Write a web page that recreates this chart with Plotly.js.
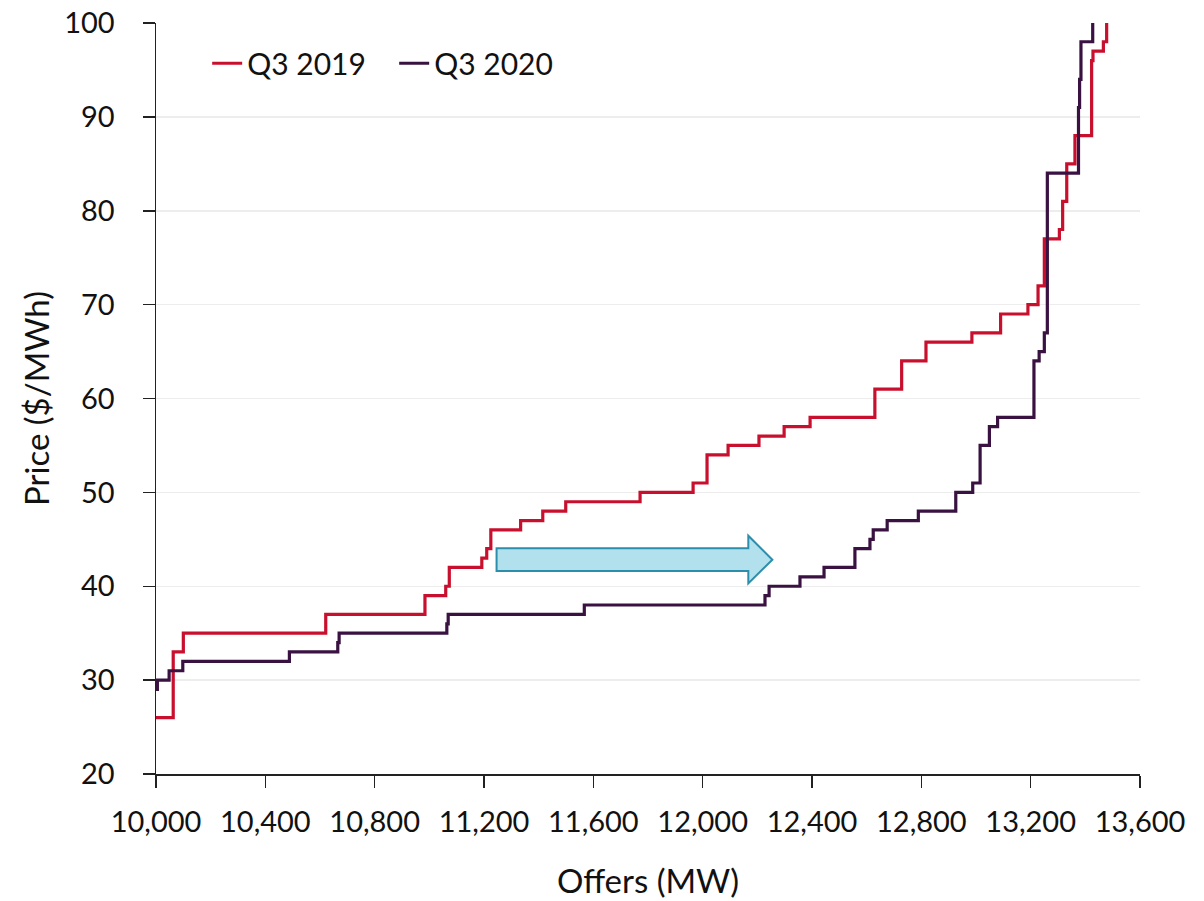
<!DOCTYPE html>
<html>
<head>
<meta charset="utf-8">
<script src="https://cdn.plot.ly/plotly-3.0.1.min.js"></script>
<style>html,body{margin:0;padding:0;background:#fff;}#chart{width:1204px;height:901px;}</style>
</head>
<body>
<div id="chart"></div>
<script>
// Q3 2019 offer stack (MW, $/MWh) - step starts
const q2019_mw = [10000, 10063, 10100, 10621, 10984, 11060, 11073, 11192, 11210, 11225, 11334, 11415, 11499, 11771, 11965, 12016, 12093, 12206, 12298, 12393, 12630, 12728, 12817, 12985, 13090, 13190, 13227, 13250, 13305, 13317, 13332, 13362, 13423, 13428, 13466, 13478];
const q2019_price = [26, 33, 35, 37, 39, 40, 42, 43, 44, 46, 47, 48, 49, 50, 51, 54, 55, 56, 57, 58, 61, 64, 66, 67, 69, 70, 72, 77, 78, 81, 85, 88, 96, 97, 98, 103];
// Q3 2020 offer stack
const q2020_mw = [10000, 10005, 10048, 10098, 10488, 10665, 10670, 11064, 11069, 11567, 12228, 12243, 12356, 12444, 12557, 12612, 12624, 12675, 12789, 12926, 12988, 13015, 13049, 13079, 13212, 13231, 13250, 13261, 13375, 13379, 13384, 13427];
const q2020_price = [29, 30, 31, 32, 33, 34, 35, 36, 37, 38, 39, 40, 41, 42, 44, 45, 46, 47, 48, 50, 51, 55, 57, 58, 64, 65, 67, 84, 91, 94, 98, 103];

const seriesNames = ['Q3 2019', 'Q3 2020'];
const xTicks = [10000, 10400, 10800, 11200, 11600, 12000, 12400, 12800, 13200, 13600];
const yTicks = [20, 30, 40, 50, 60, 70, 80, 90, 100];

// Shift arrow annotation (data coords)
const arrowX = [11246, 12167, 12255];   // body start, head base, tip
const arrowY = [41.62, 44.04, 40.30, 45.38, 42.83]; // body bottom, body top, head bottom, head top, mid

const FONT = 'Lato, "Noto Sans", sans-serif';

const traces = [
  {x: q2019_mw, y: q2019_price, name: seriesNames[0], mode: 'lines', line: {shape: 'hv', color: '#C8102E', width: 3.2}},
  {x: q2020_mw, y: q2020_price, name: seriesNames[1], mode: 'lines', line: {shape: 'hv', color: '#3A1241', width: 3.2}}
];

const arrowPath = 'M ' + arrowX[0] + ' ' + arrowY[0] +
  ' L ' + arrowX[0] + ' ' + arrowY[1] +
  ' L ' + arrowX[1] + ' ' + arrowY[1] +
  ' L ' + arrowX[1] + ' ' + arrowY[3] +
  ' L ' + arrowX[2] + ' ' + arrowY[4] +
  ' L ' + arrowX[1] + ' ' + arrowY[2] +
  ' L ' + arrowX[1] + ' ' + arrowY[0] + ' Z';

const layout = {
  width: 1204, height: 901,
  margin: {l: 156, r: 64, t: 23, b: 127},
  paper_bgcolor: '#fff', plot_bgcolor: '#fff',
  font: {family: FONT, color: '#111', size: 29},
  showlegend: true,
  legend: {orientation: 'h', x: 0.052, y: 0.981, xanchor: 'left', yanchor: 'top', font: {size: 30, family: FONT},
           bgcolor: 'rgba(0,0,0,0)', entrywidth: 142, entrywidthmode: 'pixels', tracegroupgap: 0},
  xaxis: {
    range: [10000, 13600], tickvals: xTicks, tickformat: ',d',
    showgrid: false, zeroline: false, showline: true, linecolor: '#222', linewidth: 1.5,
    ticks: 'outside', ticklen: 12, tickcolor: '#222', tickwidth: 1.5,
    tickfont: {size: 29, family: FONT}, ticklabelstandoff: 10,
    title: {text: 'Offers (MW)', font: {size: 33, family: FONT}, standoff: 32}
  },
  yaxis: {
    range: [20, 100], tickvals: yTicks,
    showgrid: true, gridcolor: '#EDEDED', gridwidth: 1.5, zeroline: false,
    showline: true, linecolor: '#222', linewidth: 1.5,
    ticks: 'outside', ticklen: 12, tickcolor: '#222', tickwidth: 1.5,
    tickfont: {size: 29, family: FONT}, ticklabelstandoff: 22,
    title: {text: 'Price ($/MWh)', font: {size: 33, family: FONT}, standoff: 4}
  },
  shapes: [{type: 'path', xref: 'x', yref: 'y', path: arrowPath, fillcolor: '#B2E0EC', line: {color: '#2B8EAA', width: 2}}]
};

Plotly.newPlot('chart', traces, layout, {displayModeBar: false, staticPlot: true});
</script>
</body>
</html>
